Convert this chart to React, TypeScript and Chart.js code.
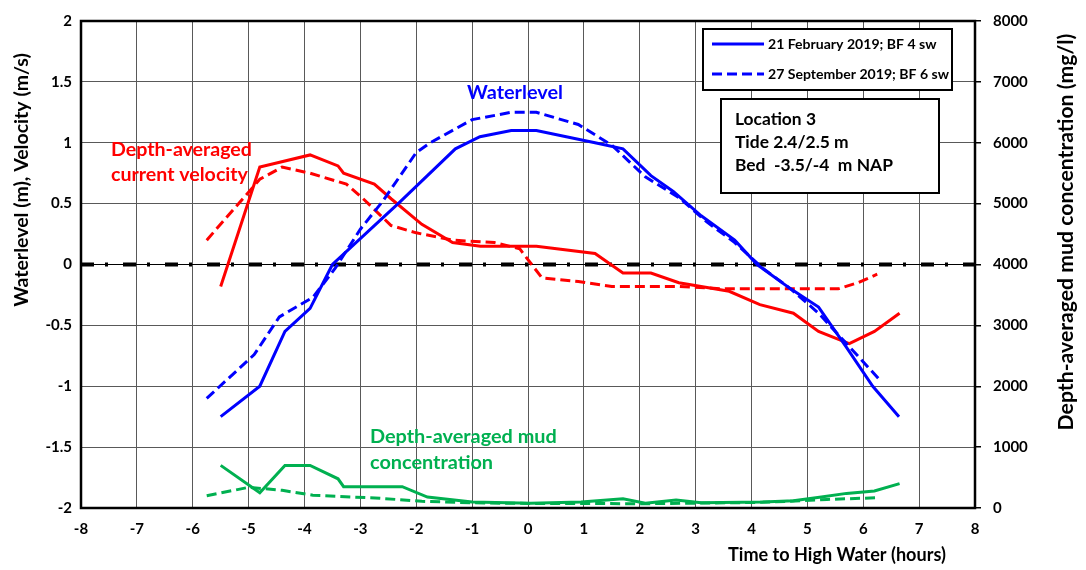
import React, { useEffect, useRef } from 'react';
import { Chart, registerables } from 'chart.js';
Chart.register(...registerables);

// Time to high water (hours) and values
const waterFebX = [-5.5, -4.8, -4.35, -3.9, -3.5, -2.3, -1.3, -0.86, -0.3, 0.15, 1.2, 1.7, 2.2, 2.6, 3.1, 3.7, 4.1, 4.7, 5.2, 5.7, 6.17, 6.64];
const waterFebY = [-1.25, -1.0, -0.55, -0.36, 0.0, 0.51, 0.95, 1.05, 1.1, 1.1, 1.0, 0.95, 0.73, 0.6, 0.4, 0.2, 0.0, -0.2, -0.35, -0.68, -1.0, -1.25];

const waterSepX = [-5.75, -4.9, -4.45, -3.85, -3.45, -3.0, -2.6, -2.0, -1.75, -1.0, -0.3, 0.15, 0.9, 1.5, 2.1, 2.7, 3.2, 3.7, 4.2, 4.7, 5.2, 5.7, 6.3];
const waterSepY = [-1.1, -0.74, -0.43, -0.27, -0.03, 0.29, 0.52, 0.92, 1.0, 1.19, 1.25, 1.25, 1.15, 0.98, 0.72, 0.55, 0.35, 0.18, -0.03, -0.2, -0.4, -0.65, -0.95];

const velFebX = [-5.5, -4.8, -3.9, -3.4, -3.3, -2.75, -2.45, -1.9, -1.35, -0.85, 0.15, 1.2, 1.7, 2.2, 2.7, 3.6, 4.15, 4.75, 5.2, 5.75, 6.2, 6.65];
const velFebY = [-0.18, 0.8, 0.9, 0.81, 0.75, 0.66, 0.54, 0.33, 0.18, 0.15, 0.15, 0.09, -0.07, -0.07, -0.15, -0.22, -0.33, -0.4, -0.55, -0.65, -0.55, -0.4];

const velSepX = [-5.75, -4.8, -4.4, -3.9, -3.25, -2.95, -2.45, -2.0, -1.35, -0.6, -0.15, 0.25, 0.9, 1.5, 2.7, 3.5, 4.7, 5.55, 5.9, 6.25];
const velSepY = [0.2, 0.7, 0.8, 0.75, 0.66, 0.54, 0.32, 0.26, 0.2, 0.18, 0.13, -0.11, -0.14, -0.18, -0.18, -0.2, -0.2, -0.2, -0.15, -0.08];

const mudFebX = [-5.5, -4.8, -4.35, -3.9, -3.4, -3.3, -2.25, -1.8, -1.0, 0.05, 0.95, 1.7, 2.1, 2.65, 3.1, 4.2, 4.75, 5.25, 5.7, 6.2, 6.65];
const mudFebY = [700, 250, 700, 700, 480, 350, 350, 180, 100, 80, 100, 150, 80, 130, 85, 100, 120, 180, 240, 280, 400];

const mudSepX = [-5.75, -5.0, -4.4, -3.85, -2.65, -1.9, -1.0, 0.0, 1.0, 2.0, 3.0, 4.0, 4.7, 5.35, 6.3];
const mudSepY = [200, 340, 290, 210, 160, 110, 85, 75, 75, 70, 80, 90, 110, 140, 170];

const zeroX = [-8, 8];
const zeroY = [0, 0];

const legendLabels = ['21 February 2019; BF 4 sw', '27 September 2019; BF 6 sw'];
const infoLines = ['Location 3', 'Tide 2.4/2.5 m', 'Bed  -3.5/-4  m NAP'];

const BLUE = '#0000FF';
const RED = '#FF0000';
const GREEN = '#00B050';
const FONT = 'Lato';

const pts = (xs: number[], ys: number[]) => xs.map((x, i) => ({ x, y: ys[i] }));

// font size so that `text` is `target` px wide
function fitFont(ctx: CanvasRenderingContext2D, text: string, target: number) {
  ctx.font = `bold 20px ${FONT}`;
  const w = ctx.measureText(text).width;
  const size = (20 * target) / w;
  ctx.font = `bold ${size.toFixed(2)}px ${FONT}`;
}

const overlay = {
  id: 'overlay',
  afterDraw(chart: any) {
    const ctx = chart.ctx as CanvasRenderingContext2D;
    const { left, top, right, bottom } = chart.chartArea;
    ctx.save();
    // frame
    ctx.strokeStyle = '#000';
    ctx.lineWidth = 2.5;
    ctx.setLineDash([]);
    ctx.strokeRect(left, top, right - left, bottom - top);

    // annotations
    ctx.textBaseline = 'middle';
    ctx.fillStyle = BLUE;
    ctx.textAlign = 'center';
    fitFont(ctx, 'Waterlevel', 96);
    ctx.fillText('Waterlevel', 515, 93);
    ctx.textAlign = 'left';
    ctx.fillStyle = RED;
    fitFont(ctx, 'Depth-averaged', 141);
    ctx.fillText('Depth-averaged', 111, 150);
    ctx.fillText('current velocity', 111, 175);
    ctx.fillStyle = GREEN;
    fitFont(ctx, 'Depth-averaged mud', 187);
    ctx.fillText('Depth-averaged mud', 370, 437);
    ctx.fillText('concentration', 370, 463);

    // legend box
    ctx.fillStyle = '#fff';
    ctx.fillRect(703, 29, 249, 61);
    ctx.strokeStyle = '#000';
    ctx.lineWidth = 2;
    ctx.strokeRect(703, 29, 249, 61);
    ctx.strokeStyle = BLUE;
    ctx.lineWidth = 3;
    ctx.beginPath();
    ctx.moveTo(712, 44); ctx.lineTo(764, 44); ctx.stroke();
    ctx.setLineDash([10, 5]);
    ctx.beginPath();
    ctx.moveTo(712, 74); ctx.lineTo(764, 74); ctx.stroke();
    ctx.setLineDash([]);
    ctx.fillStyle = '#000';
    fitFont(ctx, legendLabels[1], 181);
    ctx.fillText(legendLabels[0], 768, 44);
    ctx.fillText(legendLabels[1], 768, 74);

    // info box
    ctx.fillStyle = '#fff';
    ctx.fillRect(721, 99, 218, 94);
    ctx.strokeStyle = '#000';
    ctx.lineWidth = 2;
    ctx.strokeRect(721, 99, 218, 94);
    ctx.fillStyle = '#000';
    fitFont(ctx, infoLines[2], 158);
    infoLines.forEach((t, i) => ctx.fillText(t, 735, 119 + i * 23));

    // axis titles
    ctx.textAlign = 'center';
    fitFont(ctx, 'Time to High Water (hours)', 218);
    ctx.fillText('Time to High Water (hours)', 837, 555);
    ctx.save();
    ctx.translate(22, 180);
    ctx.rotate(-Math.PI / 2);
    fitFont(ctx, 'Waterlevel (m), Velocity (m/s)', 254);
    ctx.fillText('Waterlevel (m), Velocity (m/s)', 0, 0);
    ctx.restore();
    ctx.save();
    ctx.translate(1066, 232);
    ctx.rotate(-Math.PI / 2);
    fitFont(ctx, 'Depth-averaged mud concentration (mg/l)', 397);
    ctx.fillText('Depth-averaged mud concentration (mg/l)', 0, 0);
    ctx.restore();
    ctx.restore();
  },
};

export default function App() {
  const ref = useRef<HTMLCanvasElement>(null);
  useEffect(() => {
    document.body.style.margin = '0';
    const tickFont = { family: FONT, size: 15, weight: 'bold' as const };
    const chart = new Chart(ref.current!, {
      type: 'line',
      data: {
        datasets: [
          { label: 'wl-feb', data: pts(waterFebX, waterFebY), borderColor: BLUE, borderWidth: 3, yAxisID: 'y' },
          { label: 'wl-sep', data: pts(waterSepX, waterSepY), borderColor: BLUE, borderWidth: 3, borderDash: [10, 5], yAxisID: 'y' },
          { label: 'v-feb', data: pts(velFebX, velFebY), borderColor: RED, borderWidth: 3, yAxisID: 'y' },
          { label: 'v-sep', data: pts(velSepX, velSepY), borderColor: RED, borderWidth: 3, borderDash: [10, 5], yAxisID: 'y' },
          { label: 'c-feb', data: pts(mudFebX, mudFebY), borderColor: GREEN, borderWidth: 3, yAxisID: 'y2' },
          { label: 'c-sep', data: pts(mudSepX, mudSepY), borderColor: GREEN, borderWidth: 3, borderDash: [10, 5], yAxisID: 'y2' },
          { label: 'zero', data: pts(zeroX, zeroY), borderColor: '#000', borderWidth: 4, borderDash: [13, 11, 3, 15], borderCapStyle: 'butt', yAxisID: 'y' },
        ],
      },
      options: {
        responsive: false,
        animation: false,
        parsing: false as any,
        elements: { point: { radius: 0 }, line: { tension: 0, fill: false } },
        layout: { padding: { top: 17, left: 0, right: 0, bottom: 0 } },
        plugins: { legend: { display: false }, tooltip: { enabled: false }, title: { display: false } },
        scales: {
          x: {
            type: 'linear',
            min: -8,
            max: 8,
            ticks: { stepSize: 1, color: '#000', font: tickFont, padding: 12, maxRotation: 0, callback: (v: any) => String(v) },
            grid: { color: '#595959', lineWidth: 1, drawTicks: false },
            border: { display: false },
            afterFit: (s: any) => { s.height = 62; },
          },
          y: {
            type: 'linear',
            position: 'left',
            min: -2,
            max: 2,
            ticks: { stepSize: 0.5, color: '#000', font: tickFont, padding: 9, callback: (v: any) => String(v) },
            grid: { color: (c: any) => (c.tick && c.tick.value === 0 ? '#000' : '#595959'), lineWidth: 1, drawTicks: false },
            border: { display: false },
            afterFit: (s: any) => { s.width = 81; },
          },
          y2: {
            type: 'linear',
            position: 'right',
            min: 0,
            max: 8000,
            ticks: { stepSize: 1000, color: '#000', font: tickFont, padding: 12, callback: (v: any) => String(v) },
            grid: { drawOnChartArea: false, drawTicks: true, tickLength: 6, color: '#000', lineWidth: 1.5 },
            border: { display: false },
            afterFit: (s: any) => { s.width = 111; },
          },
        },
      },
      plugins: [overlay],
    });
    return () => chart.destroy();
  }, []);
  return (
    <div style={{ position: 'absolute', left: 0, top: 0, width: 1086, height: 570 }}>
      <canvas ref={ref} width={1086} height={570} style={{ display: 'block' }} />
    </div>
  );
}
